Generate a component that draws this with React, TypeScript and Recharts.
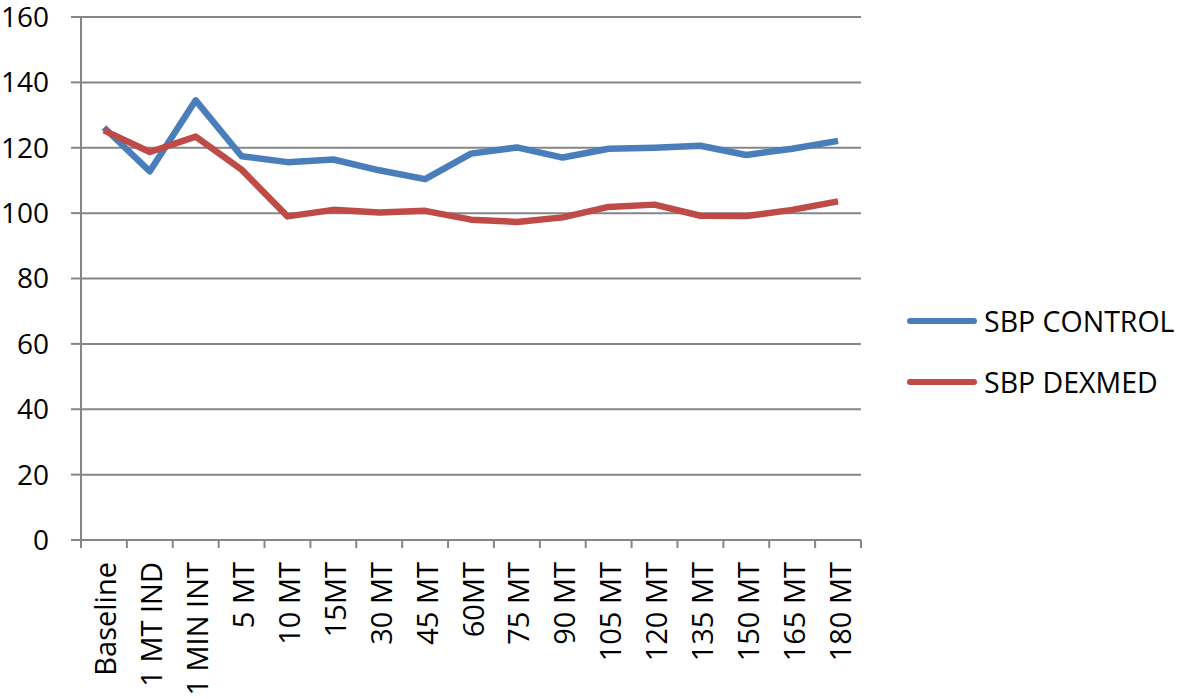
import React from 'react';
import { LineChart, Line, XAxis, YAxis, CartesianGrid, Legend } from 'recharts';

const categories = ['Baseline', '1 MT IND', '1 MIN INT', '5 MT', '10 MT', '15MT', '30 MT', '45 MT', '60MT', '75 MT', '90 MT', '105 MT', '120 MT', '135 MT', '150 MT', '165 MT', '180 MT'];
const sbpControl = [126.2, 112.8, 134.5, 117.4, 115.6, 116.4, 113.1, 110.4, 118.2, 120.1, 117.0, 119.7, 120.0, 120.6, 117.8, 119.7, 122.1];
const sbpDexmed = [125.3, 118.7, 123.4, 113.3, 99.0, 101.0, 100.2, 100.7, 98.0, 97.3, 98.7, 101.9, 102.6, 99.2, 99.1, 101.0, 103.6];
const yTicks = [0, 20, 40, 60, 80, 100, 120, 140, 160];

const data = categories.map((c, i) => ({ name: c, control: sbpControl[i], dexmed: sbpDexmed[i] }));

const W = 1184;
const H = 699;
const M = { top: 17, right: 323, left: 0, bottom: 0 };
const Y_W = 81;
const X_H = 159;
const BAND = (W - M.right - Y_W) / categories.length;
const GRID = '#868686';

const XTick = (props: any) => {
  const { x, y, payload, index } = props;
  const half = BAND / 2;
  return (
    <g>
      <line x1={x - half} y1={y} x2={x - half} y2={y + 8} stroke={GRID} strokeWidth={2} />
      {index === categories.length - 1 && (
        <line x1={x + half} y1={y} x2={x + half} y2={y + 8} stroke={GRID} strokeWidth={2} />
      )}
      <text
        transform={`translate(${x + 1},${y + 22}) rotate(-90)`}
        textAnchor="end"
        dominantBaseline="central"
        fontFamily="Open Sans"
        fontSize={29}
        fill="#000"
      >
        {payload.value}
      </text>
    </g>
  );
};

const LegendContent = (props: any) => {
  const { payload } = props;
  return (
    <div style={{ position: 'relative' }}>
      {(payload || []).map((p: any, i: number) => (
        <div key={i} style={{ height: 61, display: 'flex', alignItems: 'center' }}>
          <svg width={82} height={12} style={{ display: 'block' }}>
            <line x1={8} y1={6} x2={72} y2={6} stroke={p.color} strokeWidth={6} strokeLinecap="round" />
          </svg>
          <span style={{ fontFamily: 'Open Sans', fontSize: 28.5, color: '#000', whiteSpace: 'nowrap', lineHeight: '30px' }}>
            {p.value}
          </span>
        </div>
      ))}
    </div>
  );
};

export default function App() {
  return (
    <div style={{ position: 'absolute', left: 0, top: 0, width: W, height: H, background: '#fff', overflow: 'hidden' }}>
      <LineChart width={W} height={H} data={data} margin={M}>
        <CartesianGrid vertical={false} stroke={GRID} strokeWidth={2} />
        <XAxis
          dataKey="name"
          scale="band"
          interval={0}
          height={X_H}
          tickSize={0}
          tickMargin={0}
          tickLine={false}
          axisLine={{ stroke: GRID, strokeWidth: 2 }}
          tick={<XTick />}
        />
        <YAxis
          domain={[0, 160]}
          ticks={yTicks}
          width={Y_W}
          tickSize={10}
          tickMargin={22}
          tickLine={{ stroke: GRID, strokeWidth: 2 }}
          axisLine={{ stroke: GRID, strokeWidth: 2 }}
          tick={{ fontFamily: 'Open Sans', fontSize: 28, fill: '#000' }}
          allowDecimals={false}
        />
        <Legend
          layout="vertical"
          align="center"
          verticalAlign="middle"
          content={<LegendContent />}
          wrapperStyle={{ left: 902, top: 290, width: 282 }}
        />
        <Line
          type="linear"
          dataKey="control"
          name="SBP CONTROL"
          stroke="#4A7EBB"
          strokeWidth={6.5}
          strokeLinejoin="round"
          dot={false}
          activeDot={false}
          isAnimationActive={false}
        />
        <Line
          type="linear"
          dataKey="dexmed"
          name="SBP DEXMED"
          stroke="#BE4B48"
          strokeWidth={6.5}
          strokeLinejoin="round"
          dot={false}
          activeDot={false}
          isAnimationActive={false}
        />
      </LineChart>
    </div>
  );
}
